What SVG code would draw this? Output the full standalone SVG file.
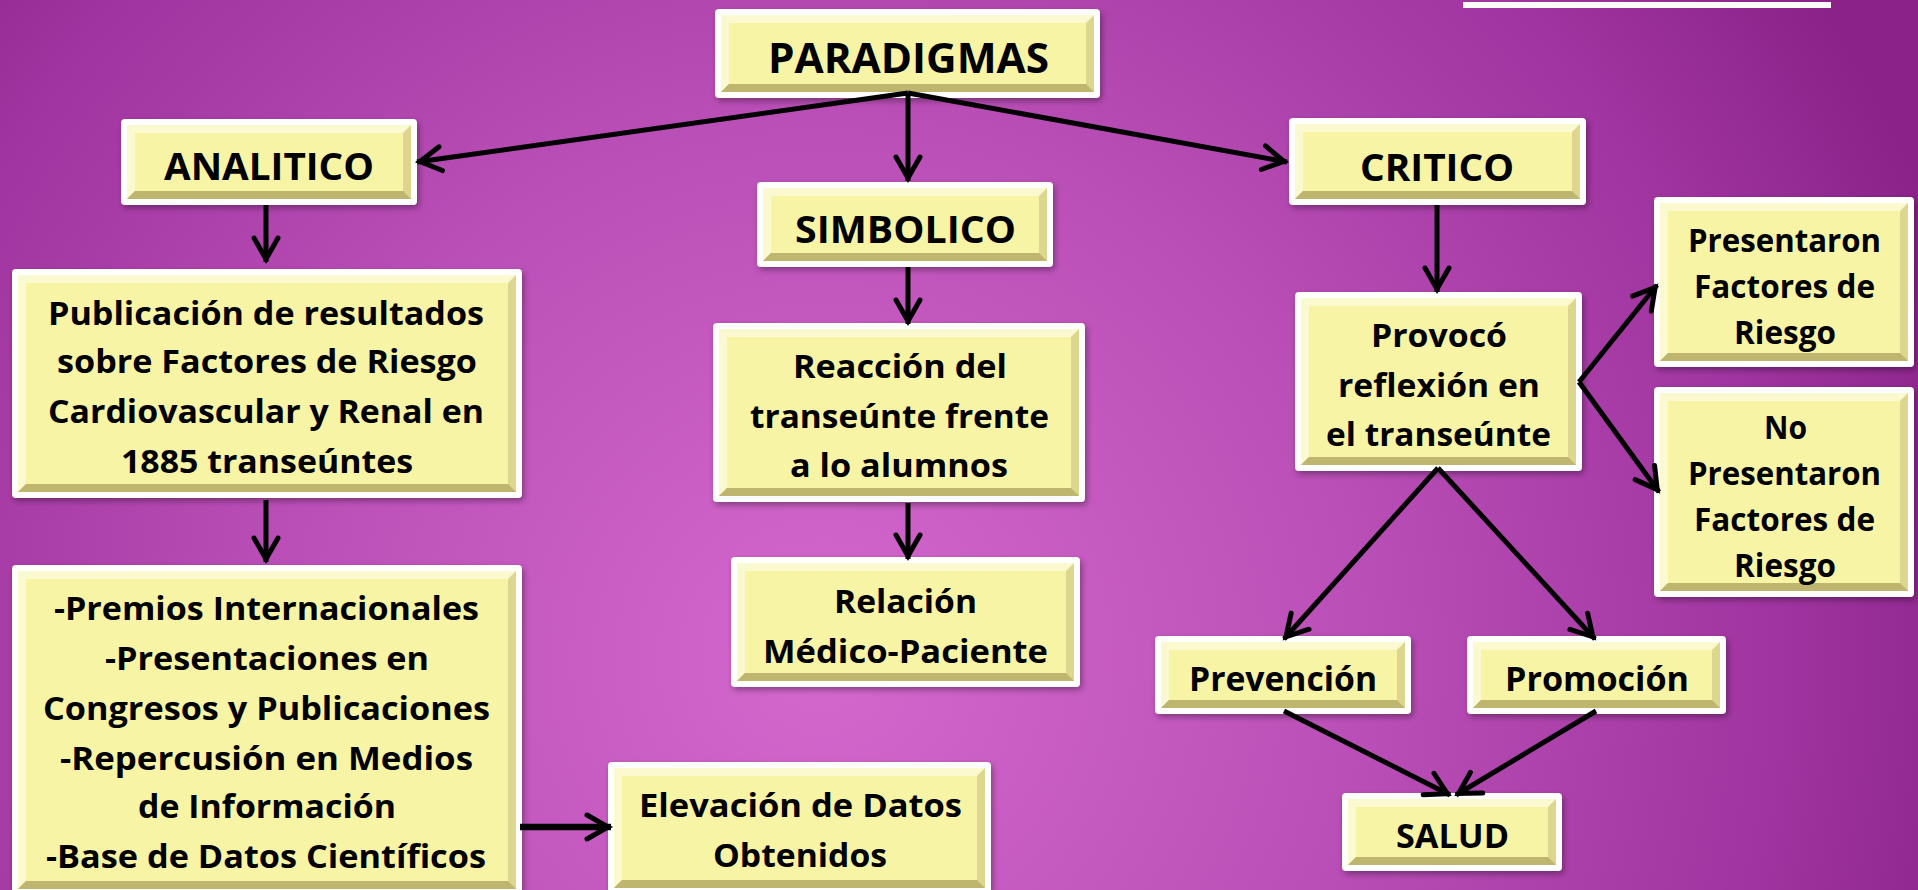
<svg xmlns="http://www.w3.org/2000/svg" width="1918" height="890" viewBox="0 0 1918 890">
<defs>
<radialGradient id="bgg" gradientUnits="userSpaceOnUse" cx="820" cy="660" r="1200">
<stop offset="0" stop-color="#D468CD"/>
<stop offset="0.45" stop-color="#BA4FB7"/>
<stop offset="0.8" stop-color="#A034A0"/>
<stop offset="1" stop-color="#8A2289"/>
</radialGradient>
<filter id="sh" x="-10%" y="-10%" width="120%" height="130%">
<feDropShadow dx="2" dy="3" stdDeviation="3" flood-color="#000" flood-opacity="0.35"/>
</filter>
<marker id="ah" markerUnits="userSpaceOnUse" orient="auto" overflow="visible" markerWidth="40" markerHeight="40" refX="0" refY="0">
<path d="M-24,-12 L-3,0 L-24,12" fill="none" stroke="#000" stroke-width="5" stroke-linejoin="miter" stroke-linecap="round"/>
</marker>
<style>
.ow{fill:#fff;filter:url(#sh)}
.bd{fill:#DDD68E}
.bl{fill:#FBF9CF}
.bb{fill:#BEB66E}
.bc{fill:#F8F4A6}
text{font-family:"Open Sans","Liberation Sans",sans-serif;font-weight:700;fill:#000;text-anchor:middle}
.t{font-size:32px}
.h{font-size:38px}
.m{font-size:34px}
.cn{stroke:#000;stroke-width:5;fill:none;marker-end:url(#ah)}
</style>
</defs>
<rect width="1918" height="890" fill="url(#bgg)"/>
<rect x="1463" y="2" width="368" height="6" fill="#fff"/>

<g id="paradigmas">
<rect class="ow" x="715" y="9" width="385" height="89" rx="4"/>
<rect class="bd" x="721" y="15" width="373" height="77"/>
<polygon class="bl" points="721,15 1094,15 1086,23 729,23 729,84 721,92"/>
<polygon class="bb" points="721,92 1094,92 1086,84 729,84"/>
<rect class="bc" x="729" y="23" width="357" height="61"/>
<text x="908.5" y="73" style="font-size:42px" textLength="281" lengthAdjust="spacingAndGlyphs">PARADIGMAS</text>
</g>

<g id="analitico">
<rect class="ow" x="121" y="119" width="296" height="86" rx="4"/>
<rect class="bd" x="127" y="125" width="284" height="74"/>
<polygon class="bl" points="127,125 411,125 403,133 135,133 135,191 127,199"/>
<polygon class="bb" points="127,199 411,199 403,191 135,191"/>
<rect class="bc" x="135" y="133" width="268" height="58"/>
<text class="h" x="269" y="180" textLength="210" lengthAdjust="spacingAndGlyphs">ANALITICO</text>
</g>

<g id="critico">
<rect class="ow" x="1289" y="118" width="297" height="87" rx="4"/>
<rect class="bd" x="1295" y="124" width="285" height="75"/>
<polygon class="bl" points="1295,124 1580,124 1572,132 1303,132 1303,191 1295,199"/>
<polygon class="bb" points="1295,199 1580,199 1572,191 1303,191"/>
<rect class="bc" x="1303" y="132" width="269" height="59"/>
<text class="h" x="1437" y="181" textLength="154" lengthAdjust="spacingAndGlyphs">CRITICO</text>
</g>

<g id="simbolico">
<rect class="ow" x="757" y="182" width="296" height="85" rx="4"/>
<rect class="bd" x="763" y="188" width="284" height="73"/>
<polygon class="bl" points="763,188 1047,188 1039,196 771,196 771,253 763,261"/>
<polygon class="bb" points="763,261 1047,261 1039,253 771,253"/>
<rect class="bc" x="771" y="196" width="268" height="57"/>
<text class="h" x="905.5" y="243" textLength="221" lengthAdjust="spacingAndGlyphs">SIMBOLICO</text>
</g>

<g id="publicacion">
<rect class="ow" x="12" y="269" width="510" height="229" rx="4"/>
<rect class="bd" x="18" y="275" width="498" height="217"/>
<polygon class="bl" points="18,275 516,275 508,283 26,283 26,484 18,492"/>
<polygon class="bb" points="18,492 516,492 508,484 26,484"/>
<rect class="bc" x="26" y="283" width="482" height="201"/>
<text class="t" x="266" y="325" textLength="436" lengthAdjust="spacingAndGlyphs">Publicación de resultados</text>
<text class="t" x="267" y="373" textLength="420" lengthAdjust="spacingAndGlyphs">sobre Factores de Riesgo</text>
<text class="t" x="266" y="423" textLength="436" lengthAdjust="spacingAndGlyphs">Cardiovascular y Renal en</text>
<text class="t" x="267" y="473" textLength="292" lengthAdjust="spacingAndGlyphs">1885 transeúntes</text>
</g>

<g id="premios">
<rect class="ow" x="12" y="565" width="510" height="330" rx="4"/>
<rect class="bd" x="18" y="571" width="498" height="318"/>
<polygon class="bl" points="18,571 516,571 508,579 26,579 26,881 18,889"/>
<polygon class="bb" points="18,889 516,889 508,881 26,881"/>
<rect class="bc" x="26" y="579" width="482" height="302"/>
<text class="t" x="266.5" y="620" textLength="425" lengthAdjust="spacingAndGlyphs">-Premios Internacionales</text>
<text class="t" x="267" y="670" textLength="324" lengthAdjust="spacingAndGlyphs">-Presentaciones en</text>
<text class="t" x="266.5" y="720" textLength="447" lengthAdjust="spacingAndGlyphs">Congresos y Publicaciones</text>
<text class="t" x="266.5" y="770" textLength="413" lengthAdjust="spacingAndGlyphs">-Repercusión en Medios</text>
<text class="t" x="267" y="818" textLength="258" lengthAdjust="spacingAndGlyphs">de Información</text>
<text class="t" x="266" y="868" textLength="440" lengthAdjust="spacingAndGlyphs">-Base de Datos Científicos</text>
</g>

<g id="elevacion">
<rect class="ow" x="608" y="762" width="383" height="132" rx="4"/>
<rect class="bd" x="614" y="768" width="371" height="120"/>
<polygon class="bl" points="614,768 985,768 977,776 622,776 622,880 614,888"/>
<polygon class="bb" points="614,888 985,888 977,880 622,880"/>
<rect class="bc" x="622" y="776" width="355" height="104"/>
<text class="t" x="800.5" y="817" textLength="323" lengthAdjust="spacingAndGlyphs">Elevación de Datos</text>
<text class="t" x="800" y="867" textLength="174" lengthAdjust="spacingAndGlyphs">Obtenidos</text>
</g>

<g id="reaccion">
<rect class="ow" x="713" y="323" width="372" height="179" rx="4"/>
<rect class="bd" x="719" y="329" width="360" height="167"/>
<polygon class="bl" points="719,329 1079,329 1071,337 727,337 727,488 719,496"/>
<polygon class="bb" points="719,496 1079,496 1071,488 727,488"/>
<rect class="bc" x="727" y="337" width="344" height="151"/>
<text class="t" x="900" y="378" textLength="214" lengthAdjust="spacingAndGlyphs">Reacción del</text>
<text class="t" x="899.5" y="428" textLength="299" lengthAdjust="spacingAndGlyphs">transeúnte frente</text>
<text class="t" x="899" y="477" textLength="218" lengthAdjust="spacingAndGlyphs">a lo alumnos</text>
</g>

<g id="relacion">
<rect class="ow" x="731" y="557" width="349" height="130" rx="4"/>
<rect class="bd" x="737" y="563" width="337" height="118"/>
<polygon class="bl" points="737,563 1074,563 1066,571 745,571 745,673 737,681"/>
<polygon class="bb" points="737,681 1074,681 1066,673 745,673"/>
<rect class="bc" x="745" y="571" width="321" height="102"/>
<text class="t" x="905.5" y="613" textLength="143" lengthAdjust="spacingAndGlyphs">Relación</text>
<text class="t" x="905.5" y="663" textLength="285" lengthAdjust="spacingAndGlyphs">Médico-Paciente</text>
</g>

<g id="provoco">
<rect class="ow" x="1295" y="292" width="287" height="179" rx="4"/>
<rect class="bd" x="1301" y="298" width="275" height="167"/>
<polygon class="bl" points="1301,298 1576,298 1568,306 1309,306 1309,457 1301,465"/>
<polygon class="bb" points="1301,465 1576,465 1568,457 1309,457"/>
<rect class="bc" x="1309" y="306" width="259" height="151"/>
<text class="t" x="1439" y="347" textLength="136" lengthAdjust="spacingAndGlyphs">Provocó</text>
<text class="t" x="1439" y="397" textLength="202" lengthAdjust="spacingAndGlyphs">reflexión en</text>
<text class="t" x="1438.5" y="446" textLength="225" lengthAdjust="spacingAndGlyphs">el transeúnte</text>
</g>

<g id="presentaron">
<rect class="ow" x="1654" y="197" width="260" height="170" rx="4"/>
<rect class="bd" x="1660" y="203" width="248" height="158"/>
<polygon class="bl" points="1660,203 1908,203 1900,211 1668,211 1668,353 1660,361"/>
<polygon class="bb" points="1660,361 1908,361 1900,353 1668,353"/>
<rect class="bc" x="1668" y="211" width="232" height="142"/>
<text class="t" x="1784.5" y="252" textLength="193" lengthAdjust="spacingAndGlyphs">Presentaron</text>
<text class="t" x="1784.5" y="298" textLength="181" lengthAdjust="spacingAndGlyphs">Factores de</text>
<text class="t" x="1785" y="344" textLength="102" lengthAdjust="spacingAndGlyphs">Riesgo</text>
</g>

<g id="no-presentaron">
<rect class="ow" x="1654" y="387" width="260" height="210" rx="4"/>
<rect class="bd" x="1660" y="393" width="248" height="198"/>
<polygon class="bl" points="1660,393 1908,393 1900,401 1668,401 1668,583 1660,591"/>
<polygon class="bb" points="1660,591 1908,591 1900,583 1668,583"/>
<rect class="bc" x="1668" y="401" width="232" height="182"/>
<text class="t" x="1785.5" y="439" textLength="43" lengthAdjust="spacingAndGlyphs">No</text>
<text class="t" x="1784.5" y="485" textLength="193" lengthAdjust="spacingAndGlyphs">Presentaron</text>
<text class="t" x="1784.5" y="531" textLength="181" lengthAdjust="spacingAndGlyphs">Factores de</text>
<text class="t" x="1785" y="577" textLength="102" lengthAdjust="spacingAndGlyphs">Riesgo</text>
</g>

<g id="prevencion">
<rect class="ow" x="1155" y="636" width="256" height="78" rx="4"/>
<rect class="bd" x="1161" y="642" width="244" height="66"/>
<polygon class="bl" points="1161,642 1405,642 1397,650 1169,650 1169,700 1161,708"/>
<polygon class="bb" points="1161,708 1405,708 1397,700 1169,700"/>
<rect class="bc" x="1169" y="650" width="228" height="50"/>
<text class="m" x="1283" y="691" textLength="188" lengthAdjust="spacingAndGlyphs">Prevención</text>
</g>

<g id="promocion">
<rect class="ow" x="1467" y="636" width="259" height="78" rx="4"/>
<rect class="bd" x="1473" y="642" width="247" height="66"/>
<polygon class="bl" points="1473,642 1720,642 1712,650 1481,650 1481,700 1473,708"/>
<polygon class="bb" points="1473,708 1720,708 1712,700 1481,700"/>
<rect class="bc" x="1481" y="650" width="231" height="50"/>
<text class="m" x="1597" y="691" textLength="184" lengthAdjust="spacingAndGlyphs">Promoción</text>
</g>

<g id="salud">
<rect class="ow" x="1342" y="793" width="220" height="78" rx="4"/>
<rect class="bd" x="1348" y="799" width="208" height="66"/>
<polygon class="bl" points="1348,799 1556,799 1548,807 1356,807 1356,857 1348,865"/>
<polygon class="bb" points="1348,865 1556,865 1548,857 1356,857"/>
<rect class="bc" x="1356" y="807" width="192" height="50"/>
<text class="m" x="1452.5" y="848" textLength="113" lengthAdjust="spacingAndGlyphs">SALUD</text>
</g>

<g id="connectors">
<line class="cn" x1="908" y1="93" x2="417" y2="162"/>
<line class="cn" x1="908" y1="93" x2="908" y2="181"/>
<line class="cn" x1="908" y1="93" x2="1287" y2="162"/>
<line class="cn" x1="266" y1="205" x2="266" y2="262"/>
<line class="cn" x1="266" y1="500" x2="266" y2="562"/>
<line class="cn" x1="520" y1="827" x2="611" y2="827" style="stroke-width:6.5"/>
<line class="cn" x1="908" y1="267" x2="908" y2="324"/>
<line class="cn" x1="908" y1="503" x2="908" y2="559"/>
<line class="cn" x1="1437" y1="205" x2="1437" y2="292"/>
<line class="cn" x1="1579" y1="382" x2="1657" y2="285"/>
<line class="cn" x1="1579" y1="382" x2="1659" y2="492"/>
<line class="cn" x1="1438" y1="468" x2="1284" y2="639"/>
<line class="cn" x1="1438" y1="468" x2="1595" y2="639"/>
<line class="cn" x1="1284" y1="711" x2="1450" y2="795"/>
<line class="cn" x1="1596" y1="711" x2="1456" y2="795"/>
</g>
</svg>
